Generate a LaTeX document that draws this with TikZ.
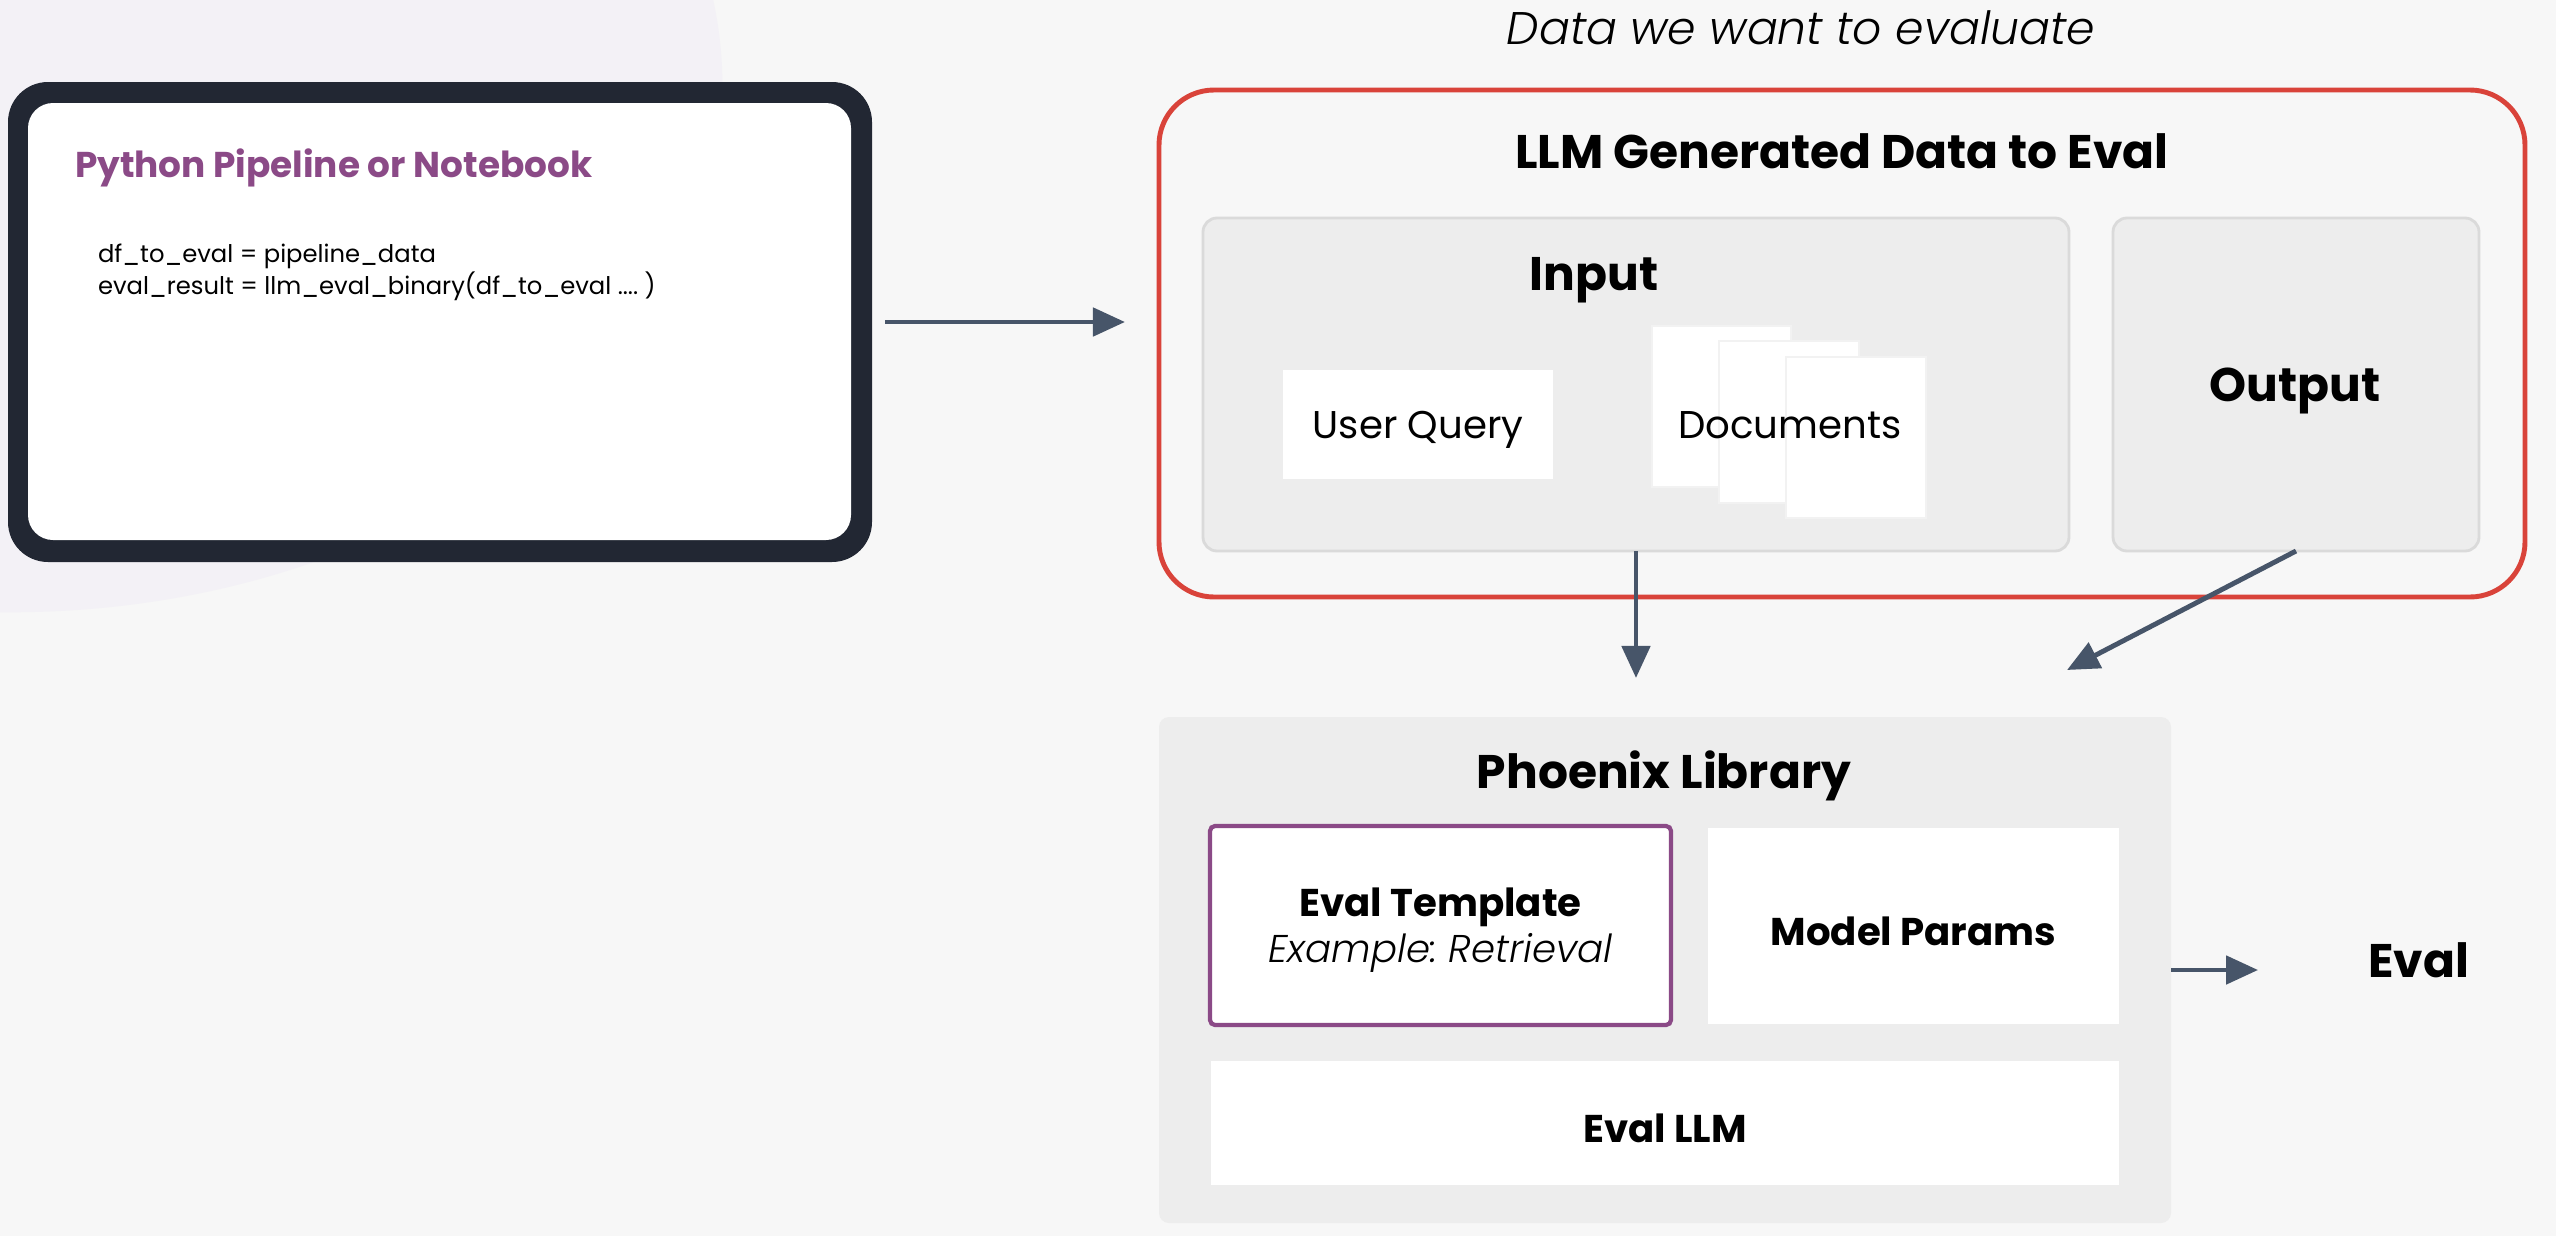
\documentclass[tikz,border=0pt]{standalone}
\usepackage{fontspec}
\setmainfont{Poppins}
\newfontfamily\lightfont{Poppins Light}[ItalicFont={Poppins Light Italic}]
\usetikzlibrary{positioning,fit,arrows.meta}

\definecolor{canvas}{HTML}{F7F7F7}
\definecolor{halo}{HTML}{F3F1F6}
\definecolor{frame}{HTML}{222733}
\definecolor{plum}{HTML}{8B4A87}
\definecolor{brick}{HTML}{D9433A}
\definecolor{panelgray}{HTML}{EDEDED}
\definecolor{panelline}{HTML}{DADADA}
\definecolor{slate}{HTML}{475569}

\begin{document}
\frenchspacing
\begin{tikzpicture}[x=0.01cm, y=-0.01cm
        , every node/.style={inner sep=0pt, outer sep=0pt}
        , panel/.style={fill=panelgray, draw=panelline, line width=0.8pt, rounded corners=0.14cm}
        , card/.style={fill=white}
        , sheet/.style={fill=white, draw=black!5, line width=0.4pt}
        , flow/.style={-{Triangle[length=0.32cm,width=0.28cm]}, draw=slate, line width=1.4pt}
        , head/.style={font=\bfseries\fontsize{13.4}{15}\selectfont, yshift=-0.05cm}
        , boxlabel/.style={font=\bfseries\fontsize{11}{14}\selectfont, yshift=-0.05cm}
        , plain/.style={font=\fontsize{11}{14}\selectfont, yshift=-0.05cm}
        ]
        \fill[canvas] (0,0) rectangle (2556,1236);
        \useasboundingbox (0,0) rectangle (2556,1236);
        \begin{scope}
            \clip (0,0) rectangle (2556,1236);
            \fill[halo] (10,85) ellipse[x radius=7.12cm, y radius=5.27cm];
        \end{scope}

        \node (pyframe) [fill=frame, rounded corners=0.4cm, fit={(8,82) (872,562)}] {};
        \node (pycard) [fill=white, rounded corners=0.25cm, fit={(28,103) (851,540)}] {};
        \node (pytitle) [anchor=west, text=plum, font=\bfseries\fontsize{10.2}{12}\selectfont] at (75,168) {Python Pipeline or Notebook};
        \node (pycode) [anchor=west, align=left, font=\fontsize{6.9}{9.1}\selectfont] at (98,272)
            {df\_to\_eval = pipeline\_data\\eval\_result = llm\_eval\_binary(df\_to\_eval .... )};

        \node (caption) [font=\lightfont\itshape\fontsize{13}{15}\selectfont] at (1801,28) {Data we want to evaluate};
        \node (gendata) [draw=brick, line width=1.4pt, rounded corners=0.55cm, fit={(1159,90) (2525,597)}] {};
        \node (gentitle) [head] at (1842,146) {LLM Generated Data to Eval};

        \node (input) [panel, fit={(1203,218) (2069,551)}] {};
        \node (inputtitle) [head] at (1594,275) {Input};
        \node (userq) [card, fit={(1283,370) (1553,479)}] {};
        \node (userqtext) [plain] at (userq.center) {User Query};
        \node (sheet1) [sheet, fit={(1652,326) (1791,487)}] {};
        \node (sheet2) [sheet, fit={(1719,341) (1859,503)}] {};
        \node (sheet3) [sheet, fit={(1786,357) (1926,518)}] {};
        \node (docs) [plain] at (1790,420) {Documents};
        \node (output) [panel, fit={(2113,218) (2479,551)}] {};
        \node (outputtext) [head] at (2295,386) {Output};

        \node (phoenix) [fill=panelgray, rounded corners=0.1cm, fit={(1159,717) (2171,1223)}] {};
        \node (phoenixtitle) [head] at (1664,771) {Phoenix Library};
        \node (template) [card, draw=plum, line width=1.2pt, rounded corners=0.05cm, fit={(1210,826) (1671,1025)}] {};
        \node (templatetext) [align=center, font=\fontsize{11}{13}\selectfont, yshift=-0.05cm] at (template.center)
            {\textbf{Eval Template}\\{\lightfont\itshape Example: Retrieval}};
        \node (params) [card, fit={(1708,828) (2119,1024)}] {};
        \node (paramstext) [boxlabel] at (params.center) {Model Params};
        \node (evalllm) [card, fit={(1211,1061) (2119,1185)}] {};
        \node (evalllmtext) [boxlabel] at (evalllm.center) {Eval LLM};
        \node (evalout) [head, right=1.97cm of phoenix.east, yshift=0.15cm, anchor=west] {Eval};

        \coordinate (merge) at (2067,670);

        \draw[flow, shorten <=0.13cm, shorten >=0.34cm] (pyframe.east) -- (pyframe.east -| gendata.west);
        \draw[flow, shorten >=0.39cm] (input.south) -- (input.south |- phoenix.north);
        \draw[flow] (output.south) -- (merge);
        \draw[flow, shorten >=1.1cm] (phoenix.east) -- (phoenix.east -| evalout.west);
    \end{tikzpicture}
\end{document}
